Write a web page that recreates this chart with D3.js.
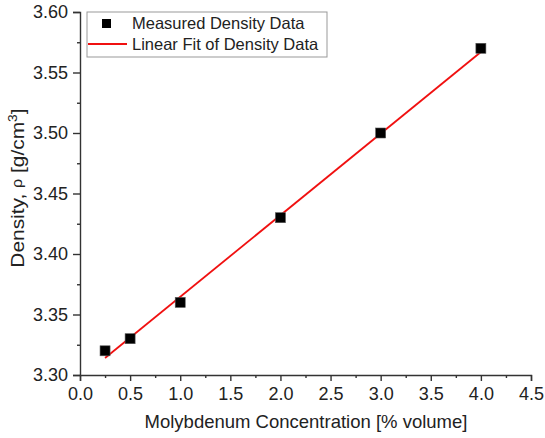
<!DOCTYPE html>
<html lang="en">
<head>
  <meta charset="UTF-8">
  <title>Density vs Molybdenum Concentration</title>
  <style>
    body { margin: 0; background: #fff; }
    svg { display: block; font-family: "Liberation Sans", Arial, sans-serif; }
  </style>
  <script src="https://d3js.org/d3.v7.min.js"></script>
</head>
<body>
  <svg width="545" height="438"></svg>
  <script>
    // measured points
    const concentration = [0.25, 0.5, 1.0, 2.0, 3.0, 4.0];
    const density = [3.32, 3.33, 3.36, 3.43, 3.50, 3.57];
    // linear fit endpoints
    const fitX = [0.25, 4.0];
    const fitY = [3.314, 3.567];
    const xTicks = [0, 0.5, 1, 1.5, 2, 2.5, 3, 3.5, 4, 4.5];
    const yTicks = [3.30, 3.35, 3.40, 3.45, 3.50, 3.55, 3.60];
    const legendLabels = ["Measured Density Data", "Linear Fit of Density Data"];

    const svg = d3.select("svg");
    const x = d3.scaleLinear().domain([0, 4.5]).range([80, 531]);
    const y = d3.scaleLinear().domain([3.30, 3.60]).range([375, 12]);

    // minor ticks halfway between major ones
    const xMinor = d3.range(0.25, 4.5, 0.5);
    const yMinor = d3.range(3.325, 3.6, 0.05);

    const axisColor = "#333";

    // x axis
    const xAxis = svg.append("g").attr("transform", "translate(0,375)");
    xAxis.call(d3.axisBottom(x).tickValues(xTicks).tickSize(6).tickPadding(6)
      .tickFormat(d3.format(".1f")));
    svg.append("g").attr("transform", "translate(0,375)")
      .call(d3.axisBottom(x).tickValues(xMinor).tickSize(3).tickFormat(""))
      .select(".domain").remove();

    // y axis
    const yAxis = svg.append("g").attr("transform", "translate(80,0)");
    yAxis.call(d3.axisLeft(y).tickValues(yTicks).tickSize(7).tickPadding(5)
      .tickFormat(d3.format(".2f")));
    svg.append("g").attr("transform", "translate(80,0)")
      .call(d3.axisLeft(y).tickValues(yMinor).tickSize(3).tickFormat(""))
      .select(".domain").remove();

    svg.selectAll(".domain, .tick line")
      .attr("stroke", axisColor).attr("stroke-width", 1.4);
    svg.selectAll(".tick text")
      .attr("fill", "#222").style("font-size", "18px");

    // axis titles
    svg.append("text")
      .attr("x", 306).attr("y", 428)
      .attr("text-anchor", "middle")
      .attr("fill", "#222").style("font-size", "18.5px")
      .text("Molybdenum Concentration [% volume]");

    // the y title looks stretched along its length in the original
    const yTitle = svg.append("text")
      .attr("transform", "translate(24,188) rotate(-90) scale(1.16,1)")
      .attr("text-anchor", "middle")
      .attr("fill", "#222").style("font-size", "18px");
    yTitle.append("tspan").text("Density, ");
    yTitle.append("tspan").attr("dy", -2).style("font-size", "14px").text("ρ");
    yTitle.append("tspan").attr("dy", 2).text(" [g/cm");
    yTitle.append("tspan").attr("dy", -7).style("font-size", "12px").text("3");
    yTitle.append("tspan").attr("dy", 7).text("]");

    // fit line
    const line = d3.line().x(d => x(d[0])).y(d => y(d[1]));
    svg.append("path")
      .datum(d3.zip(fitX, fitY))
      .attr("d", line)
      .attr("fill", "none")
      .attr("stroke", "#f01010")
      .attr("stroke-width", 1.8);

    // squares
    const s = 10;
    svg.selectAll("rect.pt")
      .data(d3.zip(concentration, density))
      .enter().append("rect")
      .attr("class", "pt")
      .attr("x", d => x(d[0]) - s / 2)
      .attr("y", d => y(d[1]) - s / 2)
      .attr("width", s).attr("height", s)
      .attr("fill", "#000")
      .attr("stroke", "#555").attr("stroke-width", 0.6);

    // legend
    const lg = svg.append("g");
    lg.append("rect")
      .attr("x", 87).attr("y", 12).attr("width", 240).attr("height", 45)
      .attr("fill", "#fff").attr("stroke", "#999").attr("stroke-width", 1);
    lg.append("rect")
      .attr("x", 102).attr("y", 19).attr("width", 9).attr("height", 9)
      .attr("fill", "#000");
    lg.append("line")
      .attr("x1", 88).attr("x2", 127).attr("y1", 44).attr("y2", 44)
      .attr("stroke", "#f01010").attr("stroke-width", 1.8);
    lg.selectAll("text.lab")
      .data(legendLabels)
      .enter().append("text")
      .attr("class", "lab")
      .attr("x", 132)
      .attr("y", (d, i) => 29 + i * 21)
      .attr("fill", "#222").style("font-size", "16.5px")
      .text(d => d);
  </script>
</body>
</html>
